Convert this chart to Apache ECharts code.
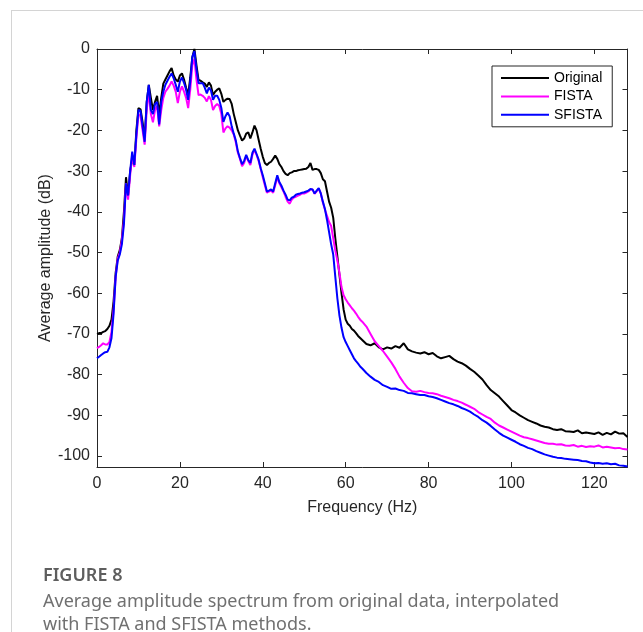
<!DOCTYPE html>
<html>
<head>
<meta charset="utf-8">
<script src="https://cdn.jsdelivr.net/npm/echarts@6/dist/echarts.min.js"></script>
<style>
html,body{margin:0;padding:0;background:#fff;}
#wrap{position:relative;width:643px;height:632px;overflow:hidden;background:#fff;}
#frame{position:absolute;left:11px;top:10px;width:640px;height:640px;border-left:1px solid #d4d4d4;border-top:1px solid #d4d4d4;}
#chart{position:absolute;left:0;top:0;width:643px;height:632px;}
.cap{position:absolute;left:43px;font-family:"Noto Sans","Open Sans",sans-serif;font-size:18px;line-height:24px;color:#707070;white-space:nowrap;}
#figt{top:562px;font-weight:600;color:#5e5e5e;}
#l1{top:588px;}
#l2{top:611px;}
</style>
</head>
<body>
<div id="wrap">
<div id="frame"></div>
<div id="chart"></div>
<div class="cap" id="figt">FIGURE 8</div>
<div class="cap" id="l1">Average amplitude spectrum from original data, interpolated</div>
<div class="cap" id="l2">with FISTA and SFISTA methods.</div>
</div>
<script>
const freq = [0,0.5,1,1.5,2,2.5,3,3.5,4,4.5,
5,5.5,6,6.5,7,7.5,8,8.5,9,9.5,
10,10.5,11,11.5,12,12.5,13,13.5,14,14.5,
15,15.5,16,16.5,17,17.5,18,18.5,19,19.5,
20,20.5,21,21.5,22,22.5,23,23.5,24,24.5,
25,25.5,26,26.5,27,27.5,28,28.5,29,29.5,
30,30.5,31,31.5,32,32.5,33,33.5,34,34.5,
35,35.5,36,36.5,37,37.5,38,38.5,39,39.5,
40,40.5,41,41.5,42,42.5,43,43.5,44,44.5,
45,45.5,46,46.5,47,47.5,48,48.5,49,49.5,
50,50.5,51,51.5,52,52.5,53,53.5,54,54.5,
55,55.5,56,56.5,57,57.5,58,58.5,59,59.5,
60,60.5,61,61.5,62,62.5,63,63.5,64,
65,66,67,68,69,70,71,72,73,74,
75,76,77,78,79,80,81,82,83,84,
85,86,87,88,89,90,91,92,93,94,
95,96,97,98,99,100,101,102,103,104,
105,106,107,108,109,110,111,112,113,114,
115,116,117,118,119,120,121,122,123,124,
125,126,127,128];

const original = [-70,-69.8,-69.8,-69.5,-69.3,-68.8,-68,-66.5,-62,-55,
-51,-49.4,-46.5,-40,-31.5,-36,-30,-27,-28.5,-20,
-14.5,-14.8,-18,-22,-13,-8.8,-12,-15,-13,-11.5,
-16,-12,-8.5,-7.5,-6.5,-5.5,-4.7,-6.5,-7.5,-8,
-6.5,-6,-7.5,-9.5,-11.3,-7,-2,0,-4,-7.6,
-7.8,-8.2,-8.5,-9.3,-8.2,-9,-11.3,-10.5,-10,-9.7,
-11,-13,-12.5,-12.2,-12.3,-13.5,-16,-18,-20,-21.3,
-22.5,-22,-20.8,-20.5,-22,-20.5,-18.8,-20,-22.3,-24.5,
-26.5,-28,-28.5,-28,-27.7,-27,-26.2,-27,-28.3,-29,
-30,-30.7,-31,-30.5,-30.3,-30,-30,-29.8,-29.7,-29.6,
-29.5,-29.4,-29,-28,-29.7,-29.5,-29.5,-29.7,-30.5,-32,
-32.5,-35,-37.5,-39,-41.5,-46.5,-51,-55.5,-60,-64,
-66.5,-67.5,-68,-68.8,-69.2,-69.8,-70.5,-71,-71.5,
-72.5,-72.8,-72.3,-73.3,-73.8,-73.3,-73.6,-73,-73.4,-72.3,
-73.8,-74.3,-74.6,-74.8,-74.5,-75,-74.7,-75.5,-76,-75.7,
-75.4,-76.2,-76.8,-77.2,-77.8,-78.6,-79.3,-80.2,-81.2,-82.6,
-83.8,-84.6,-85.4,-86.5,-87.6,-88.7,-89.3,-90,-90.6,-91.2,
-91.6,-92,-92.5,-92.8,-93,-93.4,-93.6,-93.4,-93.9,-94,
-94.1,-93.7,-94.4,-94.2,-94.4,-94.6,-94.2,-94.8,-94.3,-94.7,
-94,-94.5,-94.4,-95.3];

const fista = [-73.5,-73.2,-72.8,-72.3,-72.6,-72.6,-72,-69.5,-64,-56,
-51.5,-50,-47,-42,-33,-37,-31,-26,-29,-22,
-16,-16.5,-20,-23.5,-15,-10.5,-16,-18,-15,-14,
-19,-15,-12,-10.5,-9.8,-9,-8,-9,-10.5,-13.3,
-10.5,-9.2,-10.5,-12,-14.5,-10,-4,-2.5,-7.5,-11.3,
-11.2,-11.5,-12,-12.9,-11.6,-12.5,-15,-14,-13.5,-14,
-16,-20.5,-19.5,-19,-19.3,-20,-21,-23,-25.5,-27,
-28.8,-28,-26.3,-27.5,-28.5,-26,-24.8,-26,-27.5,-29.5,
-31.5,-33.5,-35.3,-35,-34.8,-35.3,-33.5,-31.5,-33,-34,
-35,-36.3,-37.5,-38,-37,-36.5,-36.3,-36,-35.8,-35.5,
-35.5,-35.3,-35,-34.5,-34.5,-35.6,-35,-34.3,-35.5,-37.7,
-39.5,-41,-42.5,-43.5,-46.5,-49.5,-52,-55,-58.5,-60.5,
-61.5,-62.3,-63,-63.7,-64.3,-65,-65.8,-66.5,-67,
-68.2,-70,-71.8,-73,-74.2,-75.6,-77,-78.6,-80.5,-82,
-83.3,-84.1,-84.2,-84,-84.3,-84.5,-84.6,-84.8,-85.2,-85.5,
-85.8,-86.2,-86.5,-86.9,-87.4,-87.9,-88.4,-89.2,-89.8,-90.4,
-90.9,-91.8,-92.5,-93,-93.5,-94,-94.5,-95,-95.4,-95.6,
-95.9,-96.2,-96.5,-96.8,-97,-97,-97.2,-97.1,-97.4,-97.5,
-97.3,-97.7,-97.5,-97.8,-97.6,-97.7,-97.4,-97.9,-97.7,-97.9,
-98.1,-98,-98.3,-98.4];

const sfista = [-76,-75.6,-75.2,-74.8,-74.5,-74.4,-73.3,-71,-65,-56,
-52,-50.5,-48,-43,-33,-36,-30,-25.2,-28.5,-21,
-15,-15.2,-19,-22.8,-13,-8.8,-15,-16,-13.5,-13,
-18.5,-13,-10.5,-8.8,-7.8,-6.8,-6,-7.2,-8.8,-10.5,
-8,-7,-8.3,-10,-12.5,-8,-2,-0.5,-5,-8.4,
-8.4,-8.4,-9.5,-10.9,-9.5,-10.2,-12.5,-11.5,-11.5,-12.5,
-14.5,-17.9,-16.5,-15.6,-16.5,-19,-20.8,-22.5,-25.2,-26.8,
-28.3,-27.5,-26,-27.3,-28,-25.5,-24.5,-25.8,-27.2,-29.3,
-31,-33,-35,-34.8,-34.5,-35,-33,-31,-32.7,-33.6,
-34.8,-35.8,-37,-37.2,-36.5,-36.3,-35.8,-35.6,-35.5,-35.3,
-35.2,-35,-34.8,-34.4,-34.5,-35.5,-34.8,-34.2,-35.5,-37.5,
-39.3,-42,-45,-48,-50.5,-56,-61.3,-65.5,-68.5,-70.8,
-72,-73,-74,-75,-76,-76.7,-77.3,-78,-78.5,
-79.6,-80.5,-81.3,-81.8,-82.6,-83,-83.5,-83.4,-83.8,-84,
-84.5,-84.6,-84.8,-85,-85,-85.3,-85.5,-85.8,-86.2,-86.6,
-87,-87.3,-87.7,-88.2,-88.6,-89.1,-89.8,-90.4,-91.2,-91.8,
-92.6,-93.5,-94.3,-95,-95.5,-96,-96.5,-97.1,-97.5,-98,
-98.3,-98.8,-99.2,-99.6,-99.9,-100.2,-100.4,-100.5,-100.7,-100.8,
-100.9,-101,-101.2,-101.3,-101.6,-101.8,-101.7,-101.9,-101.8,-102,
-101.9,-102.3,-102.4,-102.6];

const seriesNames = ['Original', 'FISTA', 'SFISTA'];
const xTicks = [0, 20, 40, 60, 80, 100, 120];
const yTicks = [0, -10, -20, -30, -40, -50, -60, -70, -80, -90, -100];

const AX = '#262626';
const FONT = '"Liberation Sans", Arial, Helvetica, sans-serif';

function pairs(vals) { return freq.map((f, i) => [f, vals[i]]); }

function xAx(pos, labels) {
  return {
    type: 'value', min: 0, max: 128, position: pos,
    axisLine: { show: true, onZero: false, lineStyle: { color: AX, width: 1 } },
    axisTick: { show: true, inside: true, length: 5, customValues: xTicks, lineStyle: { color: AX, width: 1 } },
    axisLabel: { show: labels, customValues: xTicks, fontSize: 16, color: AX, margin: 9, fontFamily: FONT },
    splitLine: { show: false },
    name: labels ? 'Frequency (Hz)' : '',
    nameLocation: 'middle', nameGap: 33, nameMoveOverlap: false,
    nameTextStyle: { fontSize: 16, color: AX, fontFamily: FONT }
  };
}
function yAx(pos, labels) {
  return {
    type: 'value', min: -102.7, max: 0, position: pos,
    axisLine: { show: true, onZero: false, lineStyle: { color: AX, width: 1 } },
    axisTick: { show: true, inside: true, length: 5, customValues: yTicks, lineStyle: { color: AX, width: 1 } },
    axisLabel: { show: labels, customValues: yTicks, fontSize: 16, color: AX, margin: 7, fontFamily: FONT },
    splitLine: { show: false },
    name: labels ? 'Average amplitude (dB)' : '',
    nameLocation: 'middle', nameGap: 43, nameRotate: 90, nameMoveOverlap: false,
    nameTextStyle: { fontSize: 16, color: AX, fontFamily: FONT }
  };
}

const chart = echarts.init(document.getElementById('chart'), null, { renderer: 'canvas', width: 643, height: 632 });
chart.setOption({
  animation: false,
  backgroundColor: 'transparent',
  grid: { left: 97, right: 15.5, top: 49, bottom: 165, show: false },
  xAxis: [xAx('bottom', true), xAx('top', false)],
  yAxis: [yAx('left', true), yAx('right', false)],
  legend: {
    orient: 'vertical', left: 492, top: 66,
    padding: [5, 10, 5, 9], itemGap: 4.4,
    itemWidth: 48, itemHeight: 2, icon: 'rect',
    borderColor: AX, borderWidth: 1, backgroundColor: '#fff',
    textStyle: { fontSize: 14, color: '#000', fontFamily: FONT },
    data: seriesNames
  },
  series: [
    { name: seriesNames[0], type: 'line', data: pairs(original), showSymbol: false, color: '#000000', lineStyle: { width: 2, color: '#000000' } },
    { name: seriesNames[1], type: 'line', data: pairs(fista), showSymbol: false, color: '#ff00ff', lineStyle: { width: 2, color: '#ff00ff' } },
    { name: seriesNames[2], type: 'line', data: pairs(sfista), showSymbol: false, color: '#0000ff', lineStyle: { width: 2, color: '#0000ff' } }
  ]
});
</script>
</body>
</html>
